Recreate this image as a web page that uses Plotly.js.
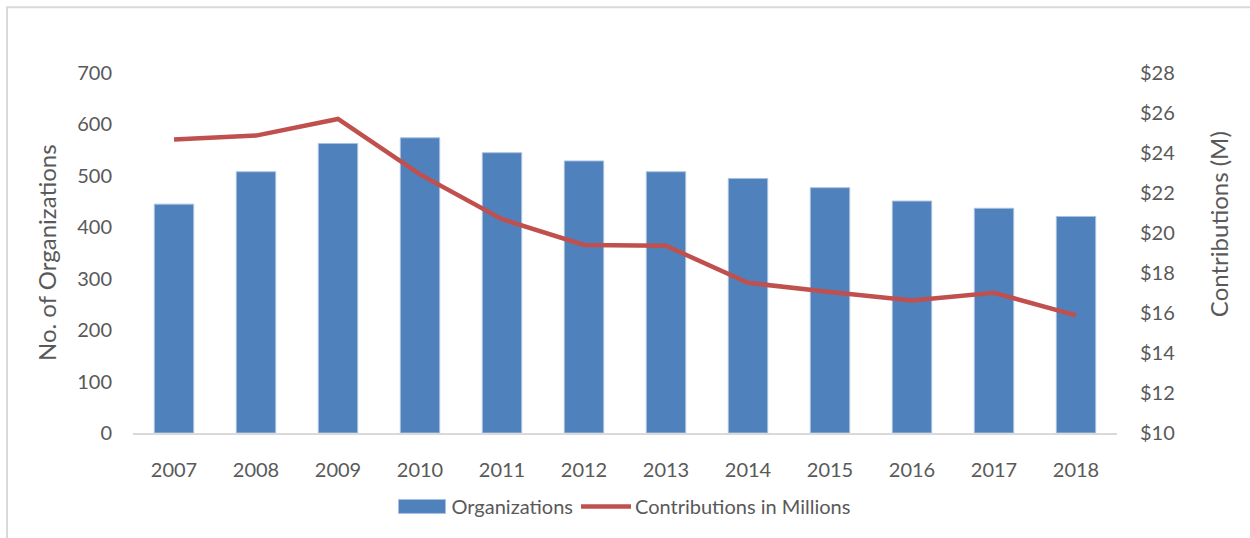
<!DOCTYPE html>
<html>
<head>
<meta charset="utf-8">
<script src="https://cdn.plot.ly/plotly-3.0.1.min.js"></script>
<style>html,body{margin:0;padding:0;background:#fff;}#chart{width:1250px;height:538px;}</style>
</head>
<body>
<div id="chart"></div>
<script>
const years = ['2007','2008','2009','2010','2011','2012','2013','2014','2015','2016','2017','2018'];
const organizations = [445, 508, 563, 574, 545, 529, 508, 495, 477, 451, 437, 421];
const contributions = [24.67, 24.87, 25.70, 22.93, 20.69, 19.40, 19.36, 17.51, 17.05, 16.63, 17.01, 15.88];
const leftTicks = [0, 100, 200, 300, 400, 500, 600, 700];
const rightTicks = [10, 12, 14, 16, 18, 20, 22, 24, 26, 28];
const rightTickText = rightTicks.map(v => '$' + v);

const FONT = 'Lato, "Open Sans", sans-serif';
const TXT = '#595959';

const traces = [
  {
    type: 'bar', name: 'Organizations', x: years, y: organizations,
    marker: {color: '#4F81BD', line: {color: '#A9C0E0', width: 1}},
    yaxis: 'y'
  },
  {
    type: 'scatter', mode: 'lines', name: 'Contributions in Millions', x: years, y: contributions,
    line: {color: '#C0504D', width: 4.5},
    yaxis: 'y2'
  }
];

const layout = {
  width: 1250, height: 538,
  margin: {l: 133, r: 133, t: 73, b: 103},
  paper_bgcolor: '#ffffff', plot_bgcolor: '#ffffff',
  font: {family: FONT, color: TXT, size: 20},
  bargap: 0.52,
  showlegend: true,
  legend: {
    orientation: 'h', x: 0.5, xanchor: 'center', y: -0.204, yanchor: 'middle',
    font: {family: FONT, size: 20, color: TXT}, itemwidth: 47, traceorder: 'normal'
  },
  xaxis: {
    type: 'category', showgrid: false, zeroline: false,
    showline: true, linecolor: '#D9D9D9', linewidth: 1.5,
    ticks: '', ticklabelstandoff: 18,
    tickfont: {family: FONT, size: 20, color: TXT}
  },
  yaxis: {
    range: [0, 700], tickvals: leftTicks, showgrid: false, zeroline: false, showline: false,
    ticks: '', ticklabelstandoff: 20,
    tickfont: {family: FONT, size: 20, color: TXT}
  },
  yaxis2: {
    range: [10, 28], tickvals: rightTicks, ticktext: rightTickText, overlaying: 'y', side: 'right',
    showgrid: false, zeroline: false, showline: false,
    ticks: '', ticklabelstandoff: 22,
    tickfont: {family: FONT, size: 20, color: TXT}
  },
  annotations: [
    {text: 'No. of Organizations', xref: 'paper', yref: 'paper',
     x: (46 - 133) / 984, y: 0.5, xanchor: 'center', yanchor: 'middle',
     textangle: -90, showarrow: false, font: {family: FONT, size: 24, color: TXT}},
    {text: 'Contributions (M)', xref: 'paper', yref: 'paper',
     x: (1218 - 133) / 984, y: (435 - 225) / 362, xanchor: 'center', yanchor: 'middle',
     textangle: -90, showarrow: false, font: {family: FONT, size: 24, color: TXT}}
  ],
  shapes: [
    {type: 'rect', xref: 'paper', yref: 'paper',
     x0: (7 - 133) / 984, x1: (1270 - 133) / 984,
     y0: (435 - 560) / 362, y1: (435 - 7) / 362,
     line: {color: '#D9D9D9', width: 2}, fillcolor: 'rgba(0,0,0,0)', layer: 'below'}
  ]
};

Plotly.newPlot('chart', traces, layout, {displayModeBar: false, staticPlot: true}).then(gd => {
  // Widen legend symbols to match the Excel-style legend keys
  const items = gd.querySelectorAll('.legend .traces');
  if (items[0]) {
    items[0].querySelectorAll('.legendpoints path').forEach(p => p.setAttribute('d', 'M22.5,7H-24.5V-7H22.5Z'));
  }
  if (items[1]) {
    items[1].querySelectorAll('.legendlines path').forEach(p => p.setAttribute('d', 'M3,0h50'));
  }
});
</script>
</body>
</html>
